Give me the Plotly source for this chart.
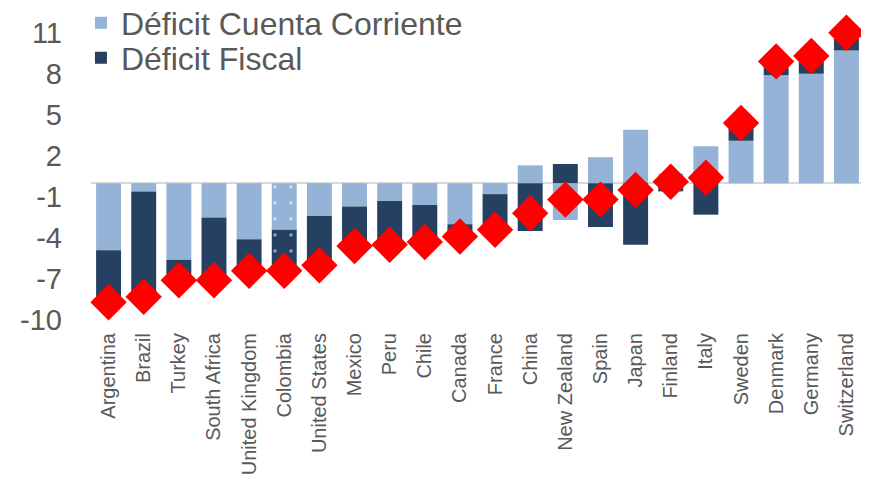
import plotly.graph_objects as go

countries = ["Argentina", "Brazil", "Turkey", "South Africa", "United Kingdom", "Colombia",
             "United States", "Mexico", "Peru", "Chile", "Canada", "France", "China",
             "New Zealand", "Spain", "Japan", "Finland", "Italy", "Sweden", "Denmark",
             "Germany", "Switzerland"]
cuenta_corriente = [-4.9, -0.6, -5.6, -2.5, -4.1, -3.4, -2.4, -1.7, -1.3, -1.6, -3.0, -0.8,
                    1.3, -2.7, 1.9, 3.9, 0.7, 2.7, 3.1, 7.9, 8.0, 9.7]
fiscal = [-3.9, -7.7, -1.5, -4.5, -2.3, -3.0, -3.5, -2.9, -3.2, -2.8, -0.9, -2.6,
          -3.5, 1.4, -3.2, -4.5, -0.6, -2.3, 1.3, 1.0, 1.3, 1.2]
total = [-8.7, -8.3, -7.1, -7.1, -6.4, -6.4, -6.0, -4.6, -4.5, -4.3, -3.9, -3.4,
         -2.2, -1.2, -1.2, -0.5, 0.1, 0.4, 4.4, 8.9, 9.3, 11.0]
y_ticks = [-10, -7, -4, -1, 2, 5, 8, 11]
y_tick_labels = ["-10", "-7", "-4", "-1", "2", "5", "8", "11"]

highlight = "Colombia"
patterns = ["." if c == highlight else "" for c in countries]

fig = go.Figure()
fig.add_trace(go.Bar(
    x=countries, y=cuenta_corriente, name="Déficit Cuenta Corriente", legend="legend",
    marker=dict(color="#95B3D7", line=dict(width=0),
                pattern=dict(shape=patterns, fgcolor="white", size=16, solidity=0.04)),
))
fig.add_trace(go.Bar(
    x=countries, y=fiscal, name="Déficit Fiscal", legend="legend2",
    marker=dict(color="#254061", line=dict(width=0),
                pattern=dict(shape=patterns, fgcolor="white", size=16, solidity=0.04)),
))
fig.add_trace(go.Scatter(
    x=countries, y=total, mode="markers", showlegend=False,
    marker=dict(symbol="diamond", size=28, color="#FF0000", line=dict(width=0)),
    cliponaxis=False,
))

leg_common = dict(xanchor="left", yanchor="middle", font=dict(size=32, color="#595959"),
                  bgcolor="rgba(0,0,0,0)", itemwidth=30)
fig.update_layout(
    width=861, height=474,
    margin=dict(l=83, r=5, t=11, b=162, autoexpand=False),
    barmode="relative", bargap=0.29,
    plot_bgcolor="white", paper_bgcolor="white",
    font=dict(family="Liberation Sans, Arial, sans-serif", color="#595959"),
    legend=dict(x=-0.013, y=(320 - 23) / 301, **leg_common),
    legend2=dict(x=-0.013, y=(320 - 58) / 301, **leg_common),
    xaxis=dict(tickangle=-90, tickfont=dict(size=20, color="#595959"),
               showgrid=False, showline=False, ticks="", ticklabelstandoff=8,
               range=[-0.5, 21.5], automargin=False),
    yaxis=dict(range=[-10, 12], tickvals=y_ticks, ticktext=y_tick_labels,
               tickfont=dict(size=29, color="#595959"),
               showgrid=False, showline=False, ticks="", ticklabelstandoff=28,
               zeroline=True, zerolinecolor="#D9D9D9", zerolinewidth=2, automargin=False),
)

fig.write_html("out.html")
